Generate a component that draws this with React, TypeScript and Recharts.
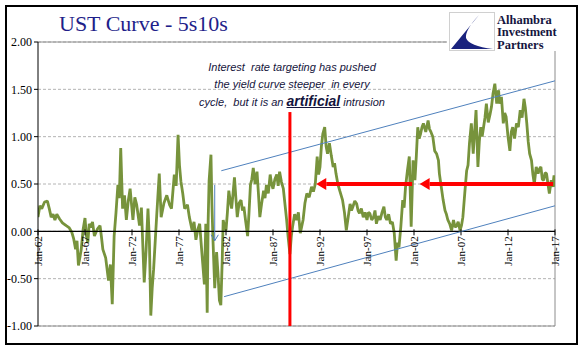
import React from "react";
import {
  LineChart,
  Line,
  XAxis,
  YAxis,
  CartesianGrid,
  ReferenceLine,
  ReferenceDot,
} from "recharts";

// 5s10s spread (year fraction, percent)
const years = [
  1962.0, 1962.2, 1962.4, 1962.7, 1963.0, 1963.2, 1963.4, 1963.6, 1963.8, 1964.0,
  1964.3, 1964.6, 1965.0, 1965.3, 1965.6, 1965.8, 1966.0, 1966.15, 1966.3, 1966.45,
  1966.6, 1966.8, 1967.0, 1967.15, 1967.3, 1967.45, 1967.6, 1967.8, 1968.0, 1968.3,
  1968.6, 1968.75, 1968.9, 1969.2, 1969.5, 1969.7, 1969.9, 1970.1, 1970.3, 1970.5,
  1970.65, 1970.8, 1971.0, 1971.2, 1971.4, 1971.6, 1971.8, 1972.1, 1972.3, 1972.5,
  1972.8, 1973.0, 1973.3, 1973.5, 1973.7, 1973.85, 1974.0, 1974.15, 1974.3, 1974.6,
  1974.9, 1975.1, 1975.4, 1975.7, 1976.0, 1976.2, 1976.5, 1976.7, 1976.9, 1977.05,
  1977.2, 1977.4, 1977.6, 1977.9, 1978.1, 1978.4, 1978.6, 1978.8, 1979.0, 1979.2,
  1979.35, 1979.5, 1979.7, 1979.85, 1980.0, 1980.1, 1980.2, 1980.4, 1980.5, 1980.6,
  1980.8, 1981.0, 1981.15, 1981.3, 1981.45, 1981.6, 1981.7, 1981.85, 1982.0, 1982.15,
  1982.3, 1982.45, 1982.6, 1982.75, 1982.9, 1983.05, 1983.2, 1983.4, 1983.6, 1983.75,
  1983.9, 1984.1, 1984.3, 1984.45, 1984.6, 1984.75, 1984.9, 1985.1, 1985.3, 1985.45,
  1985.6, 1985.8, 1986.0, 1986.15, 1986.3, 1986.5, 1986.7, 1986.85, 1987.0, 1987.2,
  1987.4, 1987.55, 1987.7, 1987.9, 1988.1, 1988.3, 1988.45, 1988.6, 1988.8, 1988.95,
  1989.1, 1989.3, 1989.5, 1989.7, 1989.9, 1990.05, 1990.2, 1990.4, 1990.6, 1990.85,
  1991.1, 1991.3, 1991.5, 1991.7, 1991.85, 1992.0, 1992.15, 1992.3, 1992.5, 1992.65,
  1992.8, 1993.0, 1993.2, 1993.4, 1993.55, 1993.7, 1993.9, 1994.1, 1994.25, 1994.4,
  1994.6, 1994.8, 1995.0, 1995.2, 1995.35, 1995.5, 1995.7, 1995.9, 1996.05, 1996.2,
  1996.4, 1996.6, 1996.8, 1997.0, 1997.15, 1997.3, 1997.5, 1997.7, 1997.85, 1998.0,
  1998.2, 1998.4, 1998.6, 1998.8, 1998.95, 1999.1, 1999.3, 1999.5, 1999.7, 1999.9,
  2000.1, 2000.25, 2000.4, 2000.6, 2000.8, 2000.95, 2001.1, 2001.3, 2001.5, 2001.7,
  2001.9, 2002.1, 2002.25, 2002.4, 2002.55, 2002.7, 2002.85, 2003.0, 2003.25, 2003.5,
  2003.65, 2003.8, 2004.0, 2004.2, 2004.4, 2004.6, 2004.7, 2004.9, 2005.1, 2005.3,
  2005.45, 2005.6, 2005.8, 2006.0, 2006.2, 2006.35, 2006.5, 2006.7, 2006.9, 2007.05,
  2007.2, 2007.4, 2007.6, 2007.75, 2007.9, 2008.1, 2008.3, 2008.45, 2008.6, 2008.8,
  2008.95, 2009.1, 2009.25, 2009.4, 2009.55, 2009.7, 2009.9, 2010.1, 2010.25, 2010.4,
  2010.6, 2010.8, 2011.0, 2011.1, 2011.3, 2011.5, 2011.65, 2011.8, 2012.0, 2012.2,
  2012.35, 2012.5, 2012.7, 2012.9, 2013.1, 2013.3, 2013.5, 2013.7, 2013.85, 2014.0,
  2014.15, 2014.3, 2014.5, 2014.65, 2014.8, 2015.0, 2015.2, 2015.35, 2015.5, 2015.65,
  2015.8, 2015.95, 2016.1, 2016.25, 2016.4, 2016.6, 2016.75, 2016.9, 2017.0,
];
const spread = [
  0.15, 0.27, 0.24, 0.31, 0.32, 0.24, 0.15, 0.18, 0.12, 0.18,
  0.13, 0.09, 0.06, 0.04, -0.01, -0.08, -0.19, -0.1, -0.36, -0.28,
  -0.19, 0.02, 0.14, -0.05, -0.12, 0.08, 0.04, 0.1, -0.05, 0.02,
  0.06, -0.06, -0.19, -0.28, -0.52, -0.35, -0.77, -0.05, 0.2, 0.49,
  0.35, 0.88, 0.24, 0.38, 0.12, 0.32, 0.45, 0.12, 0.36, 0.28,
  0.06, 0.25, -0.54, -0.2, 0.24, -0.1, -0.89, -0.6, -0.4, 0.12,
  0.61, 0.15, 0.3, 0.38, 0.28, 0.24, 0.6, 0.48, 1.02, 0.7,
  0.53, 0.4, 0.24, 0.28, 0.15, 0.01, 0.1, -0.09, 0.02, 0.08,
  -0.12, -0.31, -0.56, 0.08, -0.86, 0.1, 0.53, 0.81, 0.3, -0.05,
  -0.6, -0.22, -0.45, -0.73, -0.78, -0.3, 0.12, 0.05, 0.01, 0.2,
  0.43, 0.32, 0.24, 0.4, 0.57, 0.35, 0.15, 0.3, 0.33, 0.22,
  0.26, 0.1, -0.05, 0.2, 0.49, 0.55, 0.67, 0.5, 0.63, 0.4,
  0.15, 0.3, 0.43, 0.35, 0.49, 0.4, 0.6, 0.5, 0.45, 0.55,
  0.6, 0.48, 0.63, 0.52, 0.45, 0.26, 0.12, -0.05, -0.24, -0.05,
  0.06, 0.18, 0.12, 0.2, -0.02, 0.05, 0.12, 0.3, 0.4, 0.36,
  0.47, 0.42, 0.5, 0.79, 0.6, 0.68, 0.9, 1.03, 1.1, 0.9,
  0.82, 0.93, 0.8, 0.68, 0.72, 0.61, 0.5, 0.43, 0.38, 0.33,
  0.2, 0.01, 0.15, 0.29, 0.22, 0.26, 0.32, 0.29, 0.22, 0.19,
  0.24, 0.15, 0.2, 0.12, 0.2, 0.19, 0.12, 0.15, 0.22, 0.08,
  0.16, 0.12, 0.2, 0.26, 0.15, 0.12, 0.18, 0.08, 0.1, -0.02,
  -0.31, -0.12, -0.17, 0.05, 0.33, 0.25, 0.47, 0.64, 0.79, 0.05,
  0.75, 0.54, 0.8, 1.1, 0.98, 1.03, 1.1, 1.14, 1.05, 1.17,
  1.08, 1.05, 1.0, 0.85, 0.82, 0.75, 0.61, 0.47, 0.33, 0.22,
  0.18, 0.12, 0.08, 0.01, 0.12, 0.05, 0.05, 0.1, 0.01, 0.06,
  0.15, 0.4, 0.64, 0.7, 0.93, 1.14, 0.82, 1.05, 1.28, 0.68,
  0.95, 1.1, 1.0, 1.1, 1.2, 1.35, 1.15, 1.24, 1.32, 1.45,
  1.56, 1.35, 1.49, 1.35, 1.42, 1.14, 1.25, 1.21, 1.0, 0.85,
  1.05, 1.1, 0.98, 1.14, 1.1, 1.28, 1.2, 1.4, 1.3, 1.14,
  0.95, 0.82, 0.75, 0.6, 0.5, 0.68, 0.61, 0.66, 0.68, 0.55,
  0.54, 0.62, 0.61, 0.5, 0.4, 0.54, 0.47, 0.59, 0.47,
];

const xTicks = [1962, 1967, 1972, 1977, 1982, 1987, 1992, 1997, 2002, 2007, 2012, 2017];
const xTickLabels = ["Jan-62", "Jan-67", "Jan-72", "Jan-77", "Jan-82", "Jan-87", "Jan-92", "Jan-97", "Jan-02", "Jan-07", "Jan-12", "Jan-17"];
const yTicks = [-1, -0.5, 0, 0.5, 1, 1.5, 2];
const logoLines = ["Alhambra", "Investment", "Partners"];

// channel lines, [start, end] as {x: year, y: spread}
const upperChannel = [{ x: 1981.5, y: 0.64 }, { x: 2017, y: 1.59 }];
const lowerChannel = [{ x: 1981.8, y: -0.69 }, { x: 2017, y: 0.27 }];
const policyLine = [{ x: 1988.8, y: 1.26 }, { x: 1988.8, y: -1 }];
const arrowOne = [{ x: 2001.8, y: 0.5 }, { x: 1991.6, y: 0.5 }];
const arrowTwo = [{ x: 2016.8, y: 0.5 }, { x: 2002.6, y: 0.5 }];
const smallArrow = [{ x: 1980.8, y: 0.49 }, { x: 1980.8, y: -0.1 }];

const data = years.map((t, i) => ({ t, v: spread[i] }));

const serif = "'Liberation Serif', 'Times New Roman', serif";

function arrowShape(color: string, width: number, head: number, open: boolean) {
  return (p: any) => {
    const { x1, y1, x2, y2 } = p;
    const dx = x2 - x1;
    const dy = y2 - y1;
    const len = Math.sqrt(dx * dx + dy * dy) || 1;
    const ux = dx / len;
    const uy = dy / len;
    const bx = x2 - ux * head;
    const by = y2 - uy * head;
    const hw = head * 0.6;
    const l = `${bx - uy * hw},${by + ux * hw}`;
    const r = `${bx + uy * hw},${by - ux * hw}`;
    return (
      <g>
        <line x1={x1} y1={y1} x2={open ? x2 : bx} y2={open ? y2 : by} stroke={color} strokeWidth={width} />
        {open ? (
          <polyline points={`${l} ${x2},${y2} ${r}`} fill="none" stroke={color} strokeWidth={width} />
        ) : (
          <polygon points={`${l} ${x2},${y2} ${r}`} fill={color} />
        )}
      </g>
    );
  };
}

function xTickShape(label: string) {
  return (p: any) => {
    const { cx, cy } = p;
    return (
      <g>
        <line x1={cx} y1={cy - 2} x2={cx} y2={cy + 4} stroke="#000" strokeWidth={1} />
        <text
          x={cx - 5}
          y={cy + 4}
          transform={`rotate(-90 ${cx} ${cy})`}
          textAnchor="end"
          fontFamily={serif}
          fontSize={11}
          fill="#000"
        >
          {label}
        </text>
      </g>
    );
  };
}

export default function App() {
  return (
    <div style={{ position: "absolute", left: 0, top: 0, width: 587, height: 361, background: "#fff" }}>
      <div
        style={{
          position: "absolute",
          left: 5,
          top: 5,
          width: 569,
          height: 336,
          border: "2px solid #000",
        }}
      />
      <LineChart
        width={587}
        height={361}
        data={data}
        margin={{ top: 42, right: 32, bottom: 35, left: 0 }}
        style={{ position: "absolute", left: 0, top: 0 }}
      >
        <CartesianGrid vertical={false} stroke="#b4b4b4" strokeDasharray="3 2" />
        <XAxis dataKey="t" type="number" domain={[1962, 2017]} ticks={xTicks} hide allowDataOverflow />
        <YAxis
          width={38}
          domain={[-1, 2]}
          ticks={yTicks}
          interval={0}
          allowDataOverflow
          tickFormatter={(v: number) => v.toFixed(2)}
          tick={{ fontFamily: serif, fontSize: 12, fill: "#000" }}
          axisLine={{ stroke: "#000" }}
          tickLine={{ stroke: "#000" }}
          tickSize={4}
        />
        <ReferenceLine y={2} stroke="#8c8c8c" />
        <ReferenceLine y={-1} stroke="#8c8c8c" />
        <ReferenceLine x={2017} stroke="#8c8c8c" />
        <Line
          type="linear"
          dataKey="v"
          stroke="#77933c"
          strokeWidth={2.8}
          strokeLinejoin="bevel"
          dot={false}
          isAnimationActive={false}
        />
        <ReferenceLine y={0} stroke="#000" strokeWidth={1.2} />
        {xTicks.map((t, i) => (
          <ReferenceDot key={t} x={t} y={0} r={1} shape={xTickShape(xTickLabels[i])} />
        ))}
        <ReferenceLine segment={upperChannel} stroke="#4f81bd" strokeWidth={1} />
        <ReferenceLine segment={lowerChannel} stroke="#4f81bd" strokeWidth={1} />
        <ReferenceLine segment={smallArrow} shape={arrowShape("#4f81bd", 1, 6, true)} />
        <ReferenceLine segment={policyLine} stroke="#ff0000" strokeWidth={3} />
        <ReferenceLine segment={arrowOne} shape={arrowShape("#ff0000", 4, 10, false)} />
        <ReferenceLine segment={arrowTwo} shape={arrowShape("#ff0000", 4, 10, false)} />
      </LineChart>

      <div
        style={{
          position: "absolute",
          left: 59,
          top: 11,
          fontFamily: serif,
          fontSize: 22,
          color: "#1f1f8a",
          whiteSpace: "nowrap",
        }}
      >
        UST Curve - 5s10s
      </div>

      <div
        style={{
          position: "absolute",
          left: 447,
          top: 7,
          width: 127,
          height: 44,
          background: "#fff",
        }}
      >
        <svg width={47} height={40} style={{ position: "absolute", left: 2, top: 5 }}>
          <rect x={0.5} y={0.5} width={45} height={38} fill="#fff" stroke="#d0d0d0" />
          <path d="M 2 37 L 30 3 Q 16 18 17 26 Q 20 34 44 37 Z" fill="#1a237e" />
        </svg>
        <svg width={78} height={46} style={{ position: "absolute", left: 49, top: 0 }}>
          {logoLines.map((s, i) => (
            <text
              key={s}
              x={1}
              y={16.5 + i * 12.5}
              fontFamily={serif}
              fontSize={12.5}
              fontWeight={600}
              fill="#151540"
            >
              {s}
            </text>
          ))}
        </svg>
      </div>

      <div
        style={{
          position: "absolute",
          left: 142,
          top: 59,
          width: 300,
          textAlign: "center",
          fontFamily: "'Liberation Sans', Arial, sans-serif",
          fontStyle: "italic",
          fontSize: 11,
          lineHeight: "17px",
          color: "#14143c",
        }}
      >
        Interest&nbsp; rate targeting has pushed
        <br />
        the yield curve steeper&nbsp; in every
        <br />
        cycle,&nbsp; but it is an{" "}
        <span style={{ fontWeight: "bold", fontSize: 14, textDecoration: "underline" }}>artificial</span> intrusion
      </div>
    </div>
  );
}
